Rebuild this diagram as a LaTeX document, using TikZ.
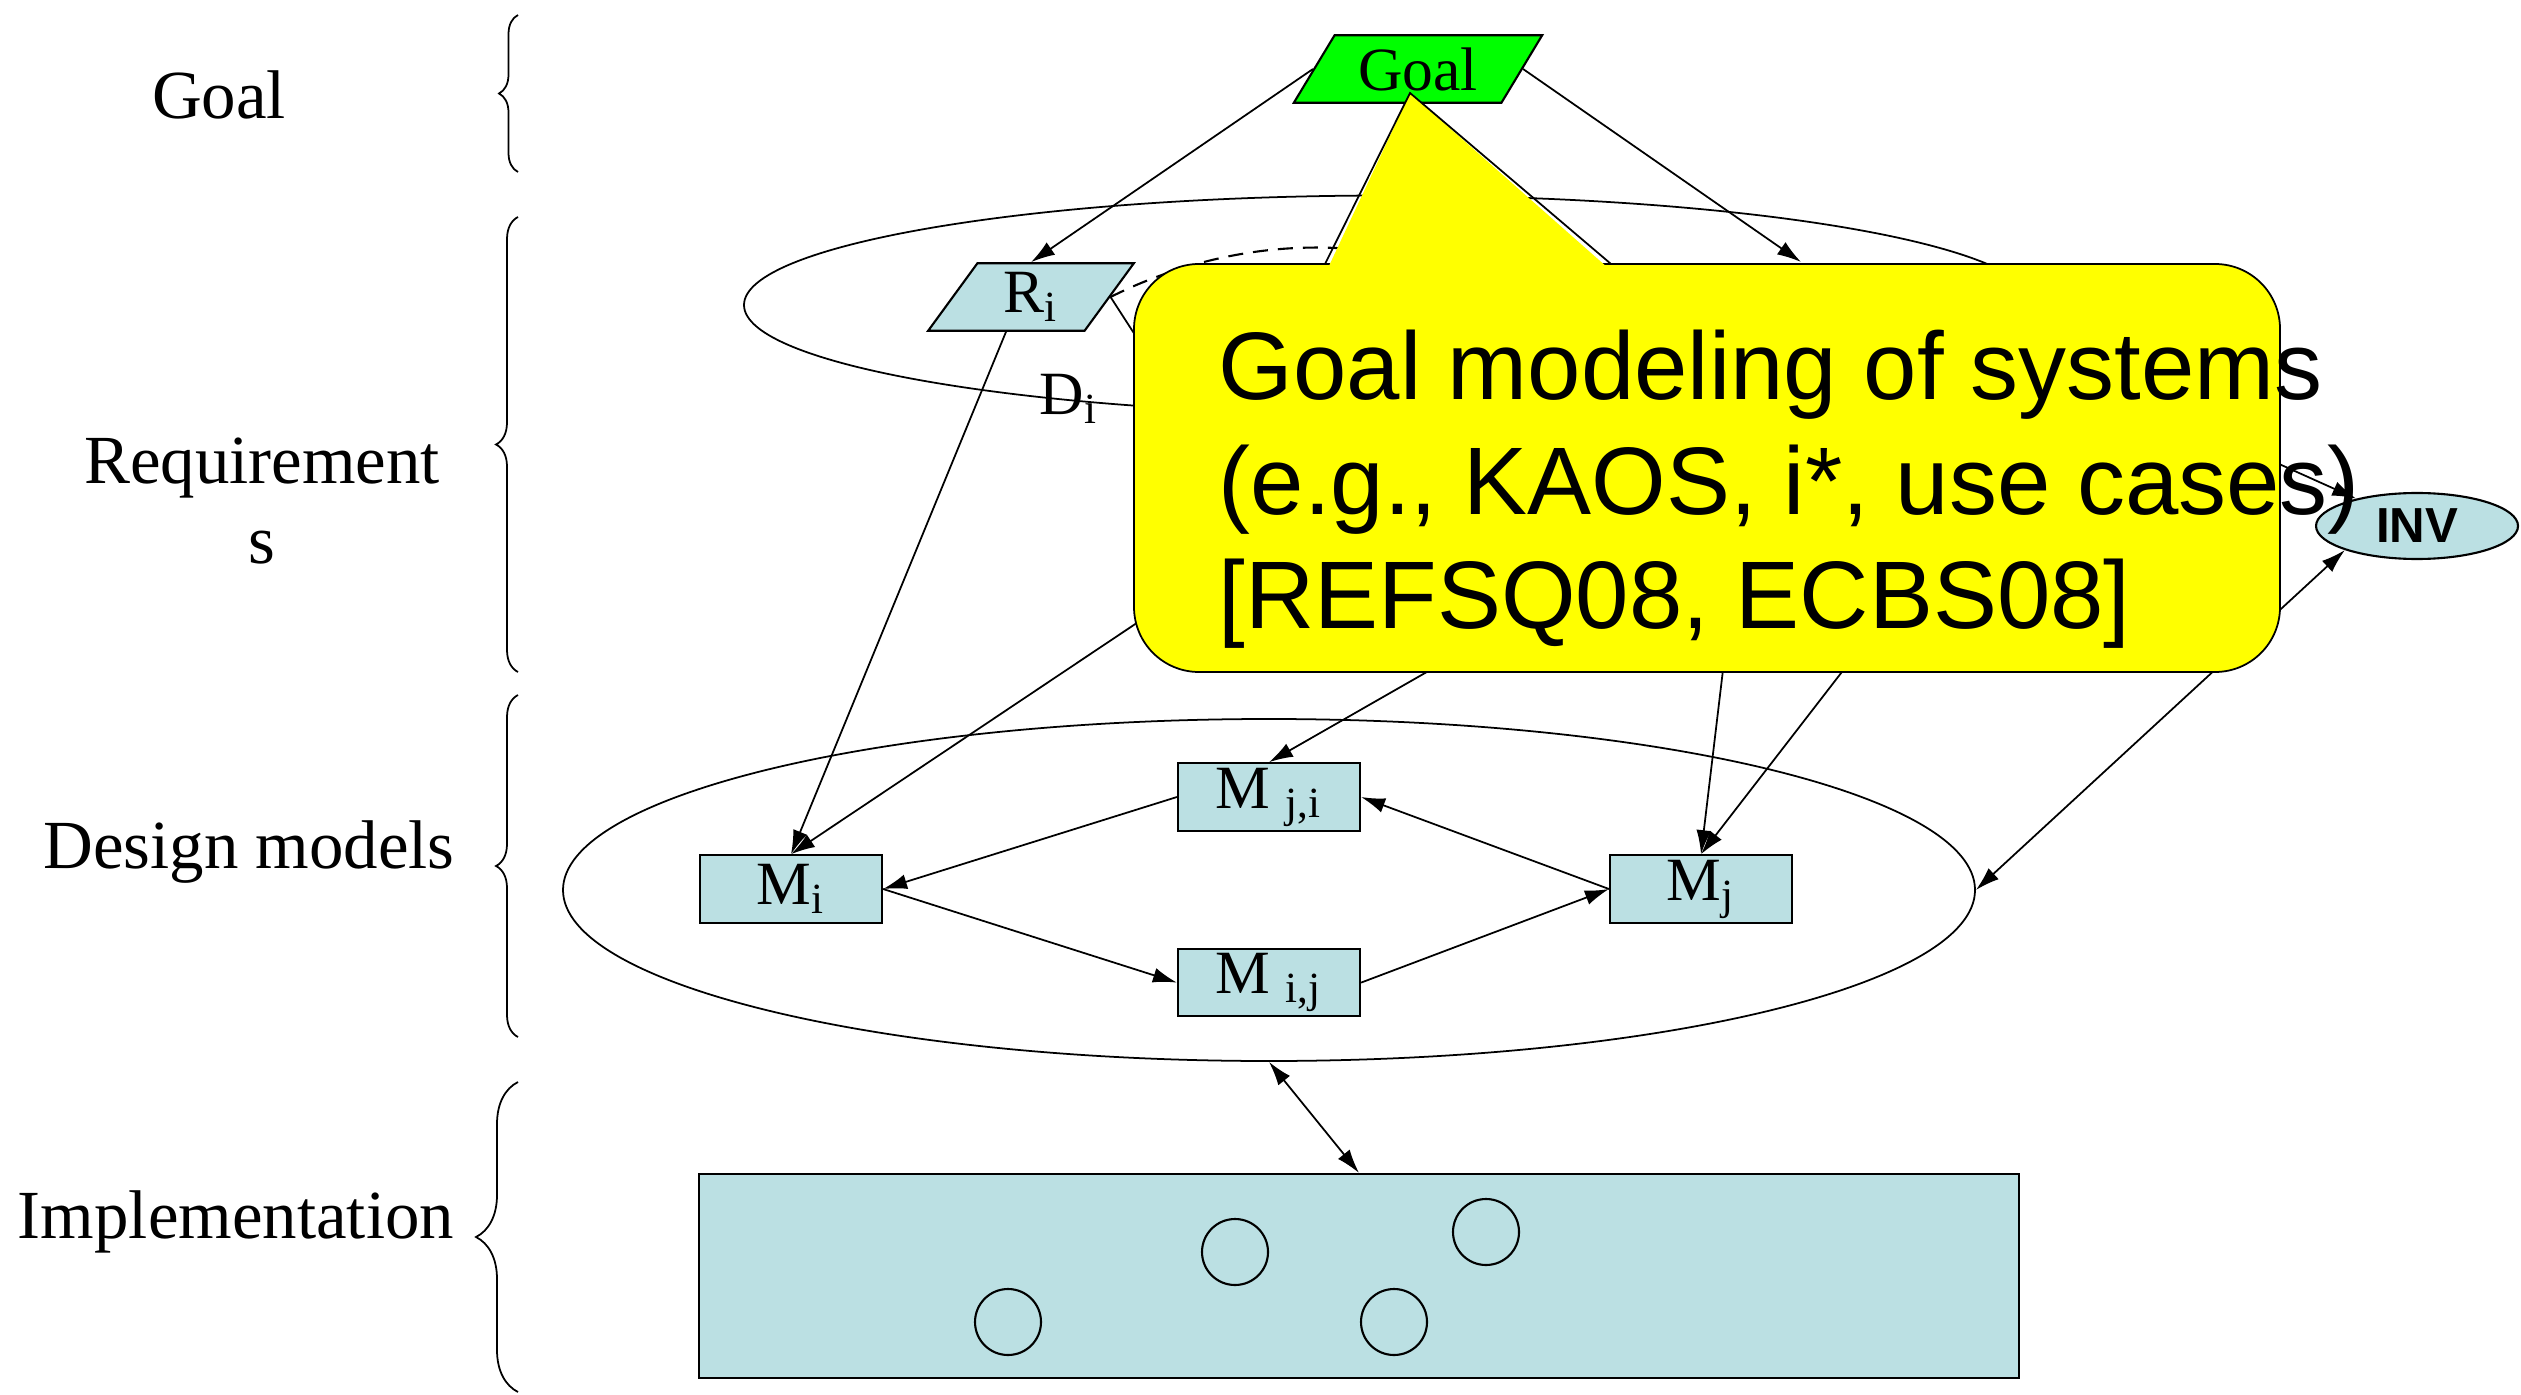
\documentclass[tikz,border=0pt]{standalone}
\usepackage{fontspec}
\setmainfont{Liberation Serif}
\setsansfont{Liberation Sans}
\usetikzlibrary{arrows.meta,positioning,shapes.geometric,decorations.pathreplacing}
\definecolor{paleblue}{RGB}{187,224,227}
\definecolor{goalgreen}{RGB}{0,255,0}
\definecolor{noteyellow}{RGB}{255,255,0}

\begin{document}
\begin{tikzpicture}[
        node distance=4mm,
        every node/.style={font=\fontsize{17.5}{21}\selectfont},
        layer/.style={font=\fontsize{19.6}{22.8}\selectfont, align=center, anchor=base},
        mbox/.style={draw, line width=0.6pt, fill=paleblue, minimum width=1.82cm,
                     minimum height=0.675cm, inner sep=0pt},
        para/.style={trapezium, draw, line width=0.6pt, trapezium stretches,
                     minimum height=0.675cm, inner sep=0pt},
        zone/.style={ellipse, draw, line width=0.5pt, inner sep=0pt},
        lbrace/.style={decorate, decoration={brace, amplitude=#1}, line width=0.5pt},
        arr/.style={-{Latex[length=2.4mm, width=1.5mm]}, line width=0.5pt},
        darr/.style={{Latex[length=2.4mm, width=1.5mm]}-{Latex[length=2.4mm, width=1.5mm]}, line width=0.5pt}
    ]
        \useasboundingbox (0,0) rectangle (25.21,-13.95);

        \node[layer] (lgoal) at (2.19,-1.19) {Goal};
        \node[layer] (lreq) at (2.62,-5.64) {Requirement\\s};
        \node[layer] (ldesign) at (2.49,-8.68) {Design models};
        \node[layer] (limpl) at (2.36,-12.38) {Implementation};

        \draw[lbrace=0.19cm] (5.18,-1.72) -- (5.18,-0.15);
        \draw[lbrace=0.22cm] (5.18,-6.72) -- (5.18,-2.17);
        \draw[lbrace=0.22cm] (5.18,-10.37) -- (5.18,-6.95);
        \draw[lbrace=0.42cm] (5.18,-13.92) -- (5.18,-10.82);

        \node[zone, minimum width=12.9cm, minimum height=2.19cm] (req) at (13.89,-3.05) {};
        \node[zone, minimum width=14.12cm, minimum height=3.42cm] (design) at (12.69,-8.90) {};

        \node[para, fill=goalgreen, trapezium left angle=56, trapezium right angle=124,
              minimum width=2.49cm] (goal) at (14.18,-0.69) {Goal};
        \node[para, fill=paleblue, trapezium left angle=63, trapezium right angle=117,
              minimum width=2.06cm] (ri) at (10.31,-2.97) {R\textsubscript{i}};
        \node (di) at (10.69,-3.99) {D\textsubscript{i}};

        \node[mbox] (mi) at (7.91,-8.89) {M\textsubscript{i}};
        \node[mbox] (mji) at (12.69,-7.97) {M \textsubscript{j,i}};
        \node[mbox, below=1.16cm of mji] (mij) {M \textsubscript{i,j}};
        \node[mbox] (mj) at (17.01,-8.89) {M\textsubscript{j}};

        \node[draw, line width=0.6pt, fill=paleblue, minimum width=13.2cm, minimum height=2.04cm,
              inner sep=0pt] (impl) at (13.59,-12.76) {};
        \foreach \p [count=\k] in {(12.35,-12.52),(14.86,-12.32),(10.08,-13.22),(13.94,-13.22)}
            \node[circle, draw, line width=0.6pt, minimum size=0.66cm, inner sep=0pt] (unit\k) at \p {};

        \node[ellipse, draw, line width=0.6pt, fill=paleblue, minimum width=2.02cm, minimum height=0.66cm,
              inner sep=0pt, font=\sffamily\bfseries\fontsize{14}{16}\selectfont] (inv) at (24.17,-5.26) {INV};

        % ends hidden behind the note
        \coordinate (rj) at (18.01,-2.62);
        \coordinate (hdash) at (14.95,-2.89);
        \coordinate (hri) at (11.99,-4.34);
        \coordinate (hmi) at (12.22,-5.66);
        \coordinate (hmji) at (14.95,-6.33);
        \coordinate (hmja) at (17.30,-6.11);
        \coordinate (hmjb) at (18.89,-6.11);
        \coordinate (hinv) at (22.19,-4.37);

        \draw[arr] (goal.west) -- (ri.north);
        \draw[arr] (goal.east) -- (rj);
        \draw[dashed, dash pattern=on 1.5mm off 1mm, line width=0.6pt]
            (ri.east) .. controls (12.22,-2.41) and (13.67,-2.25) .. (hdash);
        \draw[line width=0.5pt] (ri.east) -- (hri);
        \draw[arr] ([xshift=-2.5mm]ri.south) -- (mi.north);
        \draw[arr] (hmi) -- (mi.north);
        \draw[arr] (hmji) -- (mji.north);
        \draw[arr] (hmja) -- (mj.north);
        \draw[arr] (hmjb) -- (mj.north);
        \draw[arr] (hinv) -- (inv);
        \draw[darr] (inv.south west) -- (design.east);

        \draw[arr] (mji.west) -- (mi.east);
        \draw[arr] (mi.east) -- (mij.west);
        \draw[arr] (mij.east) -- (mj.west);
        \draw[arr] (mj.west) -- (mji.east);
        \draw[darr] (design.south) -- (impl.north);

        % the note
        \draw[fill=noteyellow, line width=0.5pt, rounded corners=0.65cm] (11.34,-2.64) rectangle (22.80,-6.72);
        \fill[noteyellow] (13.28,-2.68) -- (14.10,-0.93) -- (16.08,-2.68) -- cycle;
        \draw[line width=0.5pt] (13.25,-2.64) -- (14.10,-0.93) -- (16.11,-2.64);
        \node[font=\sffamily\fontsize{27.3}{32.7}\selectfont, align=left, anchor=base west, inner sep=0pt]
            (note) at (12.18,-6.29) {Goal modeling of systems\\(e.g., KAOS, i*, use cases)\\{}[REFSQ08, ECBS08]};
\end{tikzpicture}
\end{document}
